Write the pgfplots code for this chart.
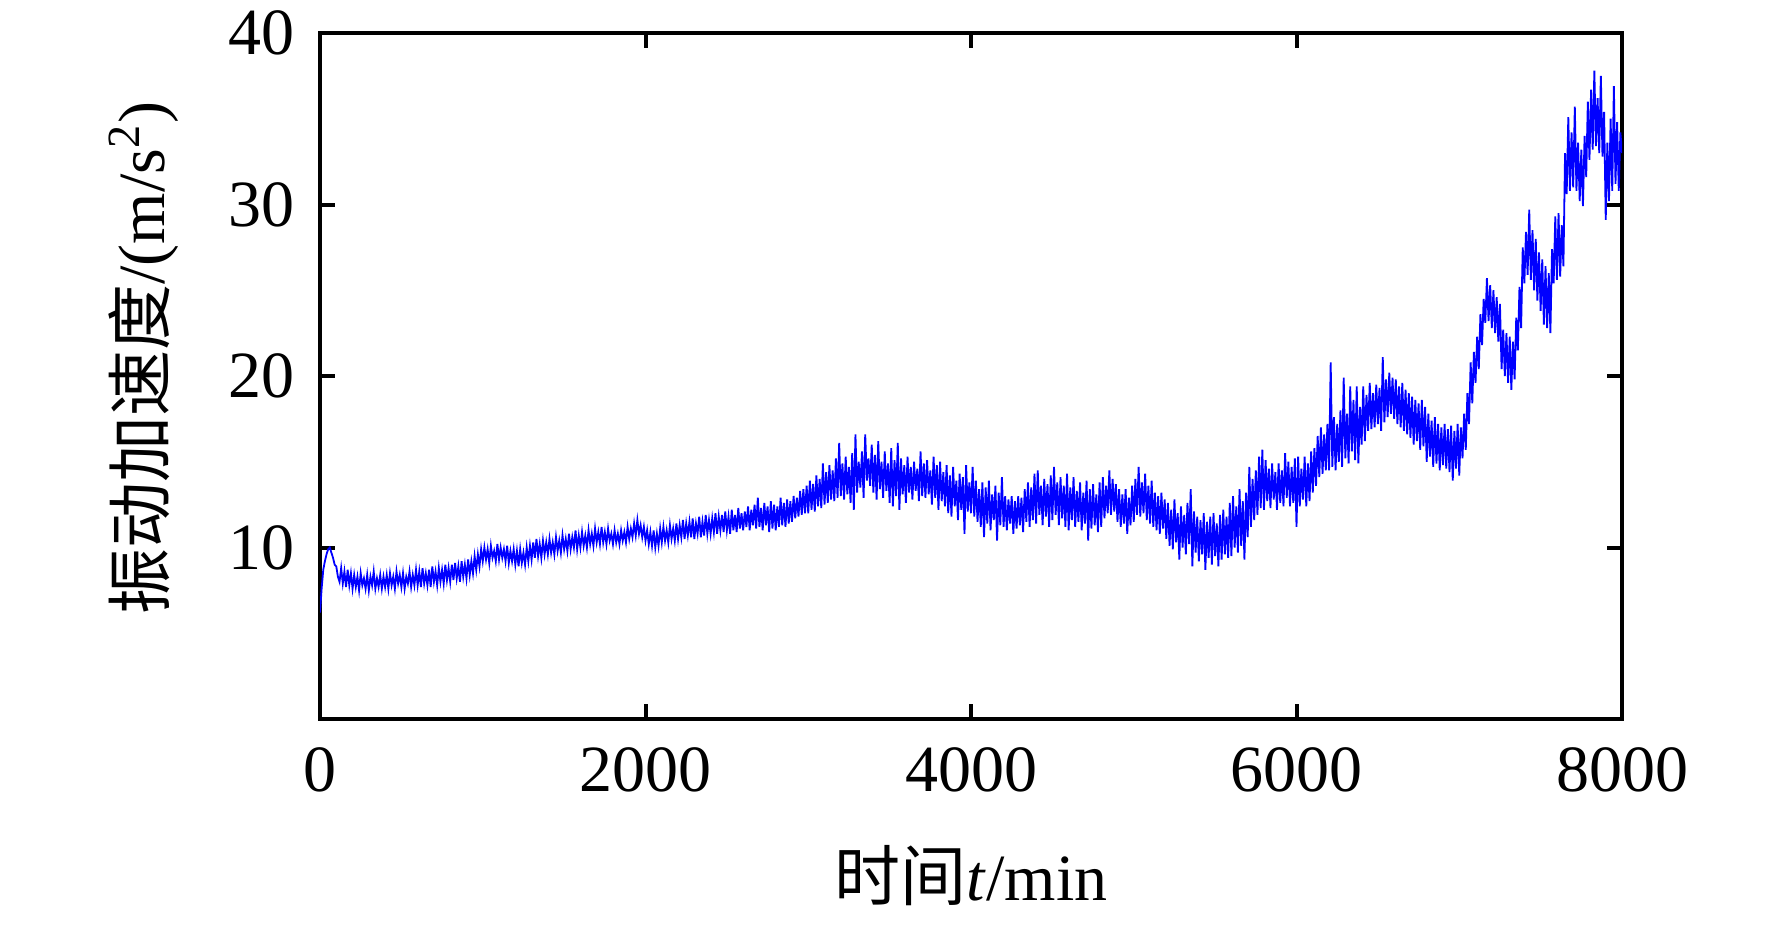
\documentclass[border=0pt]{standalone}
\usepackage{fontspec}
\setmainfont{Liberation Serif}
\newfontfamily\cjk{Noto Sans CJK SC}
\usepackage{pgfplots}
\pgfplotsset{compat=1.18}
\begin{document}
\fontsize{16.5}{19}\selectfont
\begin{tikzpicture}
\begin{axis}[name=ax, scale only axis, width=325.5pt, height=171.5pt,
 xmin=0, xmax=8000, ymin=0, ymax=40,
 xtick={0,2000,4000,6000,8000}, ytick={10,20,30,40},
 tick align=inside, major tick length=3.75pt,
 axis line style={line width=1pt},
 every tick/.style={black, line width=1pt},
 /pgf/number format/assume math mode=true,
 /pgf/number format/1000 sep={},
 scaled x ticks=false,
 tick label style={font=\fontsize{16.5}{19}\selectfont},
 xticklabel style={anchor=base, yshift=-18pt},
 yticklabel style={anchor=east, inner sep=0pt, xshift=-6.25pt},
 xlabel={{\cjk 时间}\textit{t}/min},
 ylabel={{\cjk 振动加速度}/(m/s\textsuperscript{2})},
 xlabel style={at={(axis description cs:0.5,0)}, anchor=base, yshift=-45.25pt},
 ylabel style={at={(axis description cs:-0.1352,0.526)}, anchor=center},
 label style={font=\fontsize{16.5}{19}\selectfont},
]
\addplot[color={rgb,255:red,0;green,0;blue,255}, line width=0.45pt] coordinates {
(0,6.2)(10,7.6)(20,8.7)(30,9.2)(40,9.6)(50,9.9)(60,10.0)(70,9.7)(80,9.4)(90,9.0)(100,8.9)(110,8.3)(120,8.0)(130,8.8)(140,7.9)(150,8.6)(160,7.7)(170,8.7)(180,7.8)(190,8.5)
(200,7.6)(210,8.4)(220,7.7)(230,8.3)(240,7.5)(250,8.5)(260,7.8)(270,8.2)(280,7.6)(290,8.4)(300,7.5)(310,8.3)(320,7.8)(330,8.6)(340,7.6)(350,8.2)(360,7.7)(370,8.4)(380,7.6)(390,8.3)
(400,7.7)(410,8.4)(420,7.6)(430,8.5)(440,7.8)(450,8.3)(460,7.6)(470,8.6)(480,7.9)(490,8.4)(500,7.7)(510,8.5)(520,7.6)(530,8.3)(540,7.9)(550,8.6)(560,7.7)(570,8.4)(580,7.8)(590,8.7)
(600,7.8)(610,8.6)(620,7.7)(630,8.8)(640,7.9)(650,8.5)(660,7.8)(670,8.7)(680,7.7)(690,8.9)(700,8.0)(710,8.6)(720,7.8)(730,8.8)(740,8.0)(750,8.7)(760,7.9)(770,9.0)(780,8.1)(790,8.8)
(800,8.0)(810,9.0)(820,8.1)(830,9.1)(840,8.2)(850,8.9)(860,8.0)(870,9.2)(880,8.3)(890,9.0)(900,8.2)(910,9.3)(920,8.4)(930,9.2)(940,8.5)(950,9.5)(960,8.7)(970,9.6)(980,8.9)(990,9.9)
(1000,9.2)(1010,10.0)(1020,9.3)(1030,9.9)(1040,9.1)(1050,10.1)(1060,9.4)(1070,9.8)(1080,9.2)(1090,10.2)(1100,9.3)(1110,10.0)(1120,9.4)(1130,9.9)(1140,9.2)(1150,10.1)(1160,9.1)(1170,9.8)(1180,9.2)(1190,9.9)
(1200,9.0)(1210,9.8)(1220,8.9)(1230,9.9)(1240,9.1)(1250,9.7)(1260,9.0)(1270,10.0)(1280,9.2)(1290,10.1)(1300,9.3)(1310,10.3)(1320,9.4)(1330,10.5)(1340,9.5)(1350,10.2)(1360,9.4)(1370,10.4)(1380,9.6)(1390,10.3)
(1400,9.6)(1410,10.5)(1420,9.7)(1430,10.3)(1440,9.6)(1450,10.6)(1460,9.8)(1470,10.4)(1480,9.7)(1490,10.7)(1500,9.9)(1510,10.5)(1520,9.8)(1530,10.8)(1540,9.9)(1550,10.6)(1560,10.0)(1570,11.0)(1580,9.9)(1590,10.7)
(1600,10.0)(1610,10.9)(1620,10.1)(1630,10.7)(1640,10.0)(1650,11.0)(1660,10.2)(1670,10.8)(1680,10.1)(1690,11.1)(1700,10.3)(1710,10.9)(1720,10.2)(1730,11.2)(1740,10.3)(1750,10.9)(1760,10.2)(1770,11.1)(1780,10.4)(1790,10.8)
(1800,10.2)(1810,11.0)(1820,10.3)(1830,10.8)(1840,10.2)(1850,11.0)(1860,10.4)(1870,10.9)(1880,10.3)(1890,11.2)(1900,10.5)(1910,11.1)(1920,10.6)(1930,11.4)(1940,10.7)(1950,11.6)(1960,10.8)(1970,11.3)(1980,10.6)(1990,11.2)
(2000,10.4)(2010,11.0)(2020,10.2)(2030,10.9)(2040,10.1)(2050,11.0)(2060,10.0)(2070,10.8)(2080,10.1)(2090,11.1)(2100,10.3)(2110,11.2)(2120,10.4)(2130,11.0)(2140,10.3)(2150,11.3)(2160,10.5)(2170,11.1)(2180,10.4)(2190,11.4)
(2200,10.5)(2210,11.3)(2220,10.6)(2230,11.6)(2240,10.5)(2250,11.4)(2260,10.7)(2270,11.5)(2280,10.6)(2290,11.7)(2300,10.5)(2310,11.4)(2320,10.8)(2330,11.8)(2340,10.6)(2350,11.5)(2360,10.7)(2370,11.9)(2380,10.8)(2390,11.6)
(2400,10.8)(2410,11.7)(2420,10.9)(2430,12.0)(2440,10.8)(2450,11.8)(2460,11.0)(2470,11.9)(2480,10.9)(2490,12.1)(2500,11.0)(2510,11.8)(2520,10.8)(2530,12.2)(2540,11.0)(2550,11.9)(2560,10.9)(2570,12.3)(2580,11.1)(2590,12.0)
(2600,11.0)(2610,12.1)(2620,11.2)(2630,12.4)(2640,11.0)(2650,12.2)(2660,11.3)(2670,12.5)(2680,11.1)(2690,12.9)(2700,11.2)(2710,12.3)(2720,11.0)(2730,12.6)(2740,11.3)(2750,12.4)(2760,10.9)(2770,12.7)(2780,11.1)(2790,12.5)
(2800,11.0)(2810,12.4)(2820,11.2)(2830,12.9)(2840,11.3)(2850,12.6)(2860,11.2)(2870,12.8)(2880,11.4)(2890,12.7)(2900,11.5)(2910,13.0)(2920,11.7)(2930,12.9)(2940,11.8)(2950,13.3)(2960,11.9)(2970,13.4)(2980,12.0)(2990,13.6)
(3000,12.0)(3010,13.9)(3020,12.2)(3030,13.7)(3040,12.1)(3050,14.2)(3060,12.4)(3070,14.0)(3080,12.3)(3090,14.9)(3100,12.5)(3110,14.4)(3120,12.6)(3130,14.8)(3140,12.8)(3150,14.5)(3160,12.7)(3170,15.2)(3180,12.9)(3190,16.1)
(3200,13.0)(3210,14.9)(3220,12.8)(3230,15.3)(3240,13.1)(3250,14.7)(3260,12.6)(3270,15.5)(3280,12.2)(3290,16.6)(3300,13.2)(3310,15.0)(3320,13.5)(3330,15.6)(3340,12.9)(3350,16.6)(3360,13.9)(3370,15.2)(3380,13.6)(3390,16.0)
(3400,13.2)(3410,15.4)(3420,12.8)(3430,16.2)(3440,13.4)(3450,15.0)(3460,12.9)(3470,15.6)(3480,13.3)(3490,14.9)(3500,12.6)(3510,15.8)(3520,12.4)(3530,15.1)(3540,13.0)(3550,16.1)(3560,12.2)(3570,15.2)(3580,13.1)(3590,14.8)
(3600,12.6)(3610,15.3)(3620,13.2)(3630,14.7)(3640,12.8)(3650,15.0)(3660,13.3)(3670,14.6)(3680,12.7)(3690,15.6)(3700,13.0)(3710,14.9)(3720,12.9)(3730,15.1)(3740,13.1)(3750,14.5)(3760,12.5)(3770,15.3)(3780,12.9)(3790,14.8)
(3800,12.2)(3810,15.0)(3820,12.7)(3830,14.4)(3840,12.4)(3850,14.8)(3860,12.0)(3870,14.2)(3880,11.8)(3890,14.7)(3900,12.4)(3910,13.9)(3920,11.6)(3930,14.3)(3940,12.2)(3950,14.1)(3960,10.8)(3970,14.8)(3980,12.1)(3990,13.8)
(4000,12.0)(4010,14.7)(4020,11.8)(4030,13.9)(4040,11.5)(4050,13.4)(4060,11.2)(4070,13.8)(4080,10.6)(4090,13.5)(4100,11.4)(4110,13.9)(4120,11.0)(4130,13.1)(4140,11.6)(4150,13.6)(4160,10.4)(4170,13.2)(4180,11.3)(4190,14.1)
(4200,11.2)(4210,13.0)(4220,11.0)(4230,12.8)(4240,11.4)(4250,13.0)(4260,10.8)(4270,12.7)(4280,11.1)(4290,13.0)(4300,11.3)(4310,12.9)(4320,10.9)(4330,13.4)(4340,11.5)(4350,13.8)(4360,11.2)(4370,13.5)(4380,11.6)(4390,14.3)
(4400,11.4)(4410,14.5)(4420,11.9)(4430,13.6)(4440,11.3)(4450,14.0)(4460,11.8)(4470,13.7)(4480,11.2)(4490,14.2)(4500,11.6)(4510,14.7)(4520,11.9)(4530,13.8)(4540,11.3)(4550,14.1)(4560,11.7)(4570,13.6)(4580,11.2)(4590,14.3)
(4600,11.0)(4610,13.5)(4620,11.6)(4630,14.1)(4640,11.2)(4650,13.3)(4660,11.5)(4670,13.8)(4680,11.0)(4690,13.2)(4700,11.4)(4710,13.9)(4720,10.4)(4730,13.4)(4740,11.1)(4750,13.7)(4760,11.3)(4770,13.1)(4780,10.9)(4790,13.8)
(4800,11.2)(4810,14.1)(4820,11.7)(4830,13.6)(4840,12.0)(4850,14.5)(4860,11.9)(4870,14.0)(4880,12.1)(4890,13.7)(4900,11.5)(4910,13.4)(4920,11.2)(4930,13.1)(4940,11.4)(4950,13.4)(4960,10.8)(4970,12.9)(4980,11.3)(4990,13.6)
(5000,11.5)(5010,14.0)(5020,11.9)(5030,14.7)(5040,11.8)(5050,13.8)(5060,12.0)(5070,14.3)(5080,11.6)(5090,13.6)(5100,11.4)(5110,13.9)(5120,11.2)(5130,13.2)(5140,11.0)(5150,13.0)(5160,10.8)(5170,13.2)(5180,11.1)(5190,12.8)
(5200,10.5)(5210,12.6)(5220,10.1)(5230,12.2)(5240,9.9)(5250,12.8)(5260,10.3)(5270,12.0)(5280,9.3)(5290,12.4)(5300,10.0)(5310,11.9)(5320,9.6)(5330,12.6)(5340,10.2)(5350,13.4)(5360,8.9)(5370,12.1)(5380,9.7)(5390,11.8)
(5400,9.2)(5410,11.6)(5420,9.6)(5430,12.0)(5440,8.7)(5450,11.5)(5460,9.4)(5470,11.8)(5480,9.0)(5490,12.0)(5500,9.5)(5510,11.4)(5520,8.9)(5530,11.9)(5540,9.3)(5550,12.2)(5560,9.6)(5570,11.8)(5580,9.4)(5590,12.6)
(5600,9.5)(5610,13.0)(5620,10.0)(5630,12.4)(5640,9.7)(5650,13.4)(5660,10.1)(5670,12.7)(5680,9.3)(5690,13.2)(5700,10.6)(5710,14.7)(5720,11.2)(5730,14.0)(5740,11.6)(5750,14.5)(5760,11.9)(5770,15.3)(5780,12.3)(5790,15.7)
(5800,12.2)(5810,15.1)(5820,12.7)(5830,14.6)(5840,12.3)(5850,14.9)(5860,12.8)(5870,14.4)(5880,12.2)(5890,14.9)(5900,12.6)(5910,14.5)(5920,12.4)(5930,15.5)(5940,12.9)(5950,15.0)(5960,12.4)(5970,14.7)(5980,12.6)(5990,15.2)
(6000,11.2)(6010,15.3)(6020,12.4)(6030,14.6)(6040,12.8)(6050,15.3)(6060,12.4)(6070,14.9)(6080,12.7)(6090,15.6)(6100,13.2)(6110,15.8)(6120,13.6)(6130,16.5)(6140,14.1)(6150,17.0)(6160,14.3)(6170,16.6)(6180,14.5)(6190,17.2)
(6200,14.5)(6210,20.8)(6220,14.7)(6230,17.6)(6240,14.5)(6250,17.2)(6260,15.0)(6270,18.0)(6280,14.7)(6290,19.9)(6300,15.2)(6310,17.8)(6320,14.9)(6330,19.4)(6340,15.6)(6350,18.6)(6360,15.1)(6370,19.4)(6380,14.9)(6390,18.2)
(6400,16.0)(6410,19.4)(6420,16.2)(6430,18.9)(6440,16.8)(6450,19.6)(6460,16.9)(6470,19.0)(6480,17.0)(6490,19.5)(6500,17.2)(6510,19.3)(6520,16.8)(6530,21.1)(6540,17.3)(6550,19.8)(6560,17.6)(6570,20.2)(6580,17.8)(6590,19.9)
(6600,17.5)(6610,19.8)(6620,17.2)(6630,19.4)(6640,17.0)(6650,19.6)(6660,16.8)(6670,19.2)(6680,16.6)(6690,19.0)(6700,16.4)(6710,18.8)(6720,16.0)(6730,18.6)(6740,16.2)(6750,18.4)(6760,15.7)(6770,18.6)(6780,15.9)(6790,18.2)
(6800,15.0)(6810,17.8)(6820,15.3)(6830,17.4)(6840,14.7)(6850,17.6)(6860,14.9)(6870,17.2)(6880,14.5)(6890,17.0)(6900,14.8)(6910,17.2)(6920,14.6)(6930,16.9)(6940,14.4)(6950,17.1)(6960,13.9)(6970,16.8)(6980,14.6)(6990,17.2)
(7000,14.2)(7010,17.0)(7020,15.2)(7030,17.8)(7040,15.7)(7050,19.0)(7060,17.2)(7070,20.8)(7080,18.4)(7090,21.4)(7100,19.6)(7110,22.3)(7120,20.4)(7130,23.6)(7140,21.8)(7150,24.5)(7160,23.1)(7170,25.7)(7180,23.2)(7190,25.3)
(7200,22.8)(7210,25.0)(7220,22.5)(7230,24.6)(7240,22.0)(7250,24.2)(7260,20.4)(7270,22.7)(7280,20.0)(7290,22.5)(7300,19.6)(7310,22.3)(7320,19.2)(7330,22.0)(7340,19.8)(7350,23.4)(7360,21.5)(7370,25.2)(7380,22.8)(7390,27.5)
(7400,25.4)(7410,28.4)(7420,25.9)(7430,29.7)(7440,25.6)(7450,28.5)(7460,25.0)(7470,28.0)(7480,24.4)(7490,27.2)(7500,23.8)(7510,26.8)(7520,23.0)(7530,26.4)(7540,22.8)(7550,26.0)(7560,22.5)(7570,27.4)(7580,25.4)(7590,29.3)
(7600,25.6)(7610,29.5)(7620,25.8)(7630,28.8)(7640,26.4)(7650,33.0)(7660,30.6)(7670,35.1)(7680,30.8)(7690,34.2)(7700,31.0)(7710,35.7)(7720,30.8)(7730,33.6)(7740,30.2)(7750,33.2)(7760,29.9)(7770,34.0)(7780,31.6)(7790,36.0)
(7800,32.6)(7810,36.7)(7820,33.2)(7830,37.8)(7840,33.4)(7850,36.2)(7860,33.0)(7870,37.5)(7880,32.8)(7890,35.4)(7900,29.1)(7910,33.6)(7920,30.2)(7930,35.0)(7940,30.8)(7950,36.9)(7960,31.2)(7970,34.8)(7980,30.8)(7990,34.2)
(8000,33.0)
};
\end{axis}
\path ([shift={(-80pt,-49.75pt)}]ax.south west) rectangle ([shift={(37.5pt,8.25pt)}]ax.north east);
\end{tikzpicture}
\end{document}
